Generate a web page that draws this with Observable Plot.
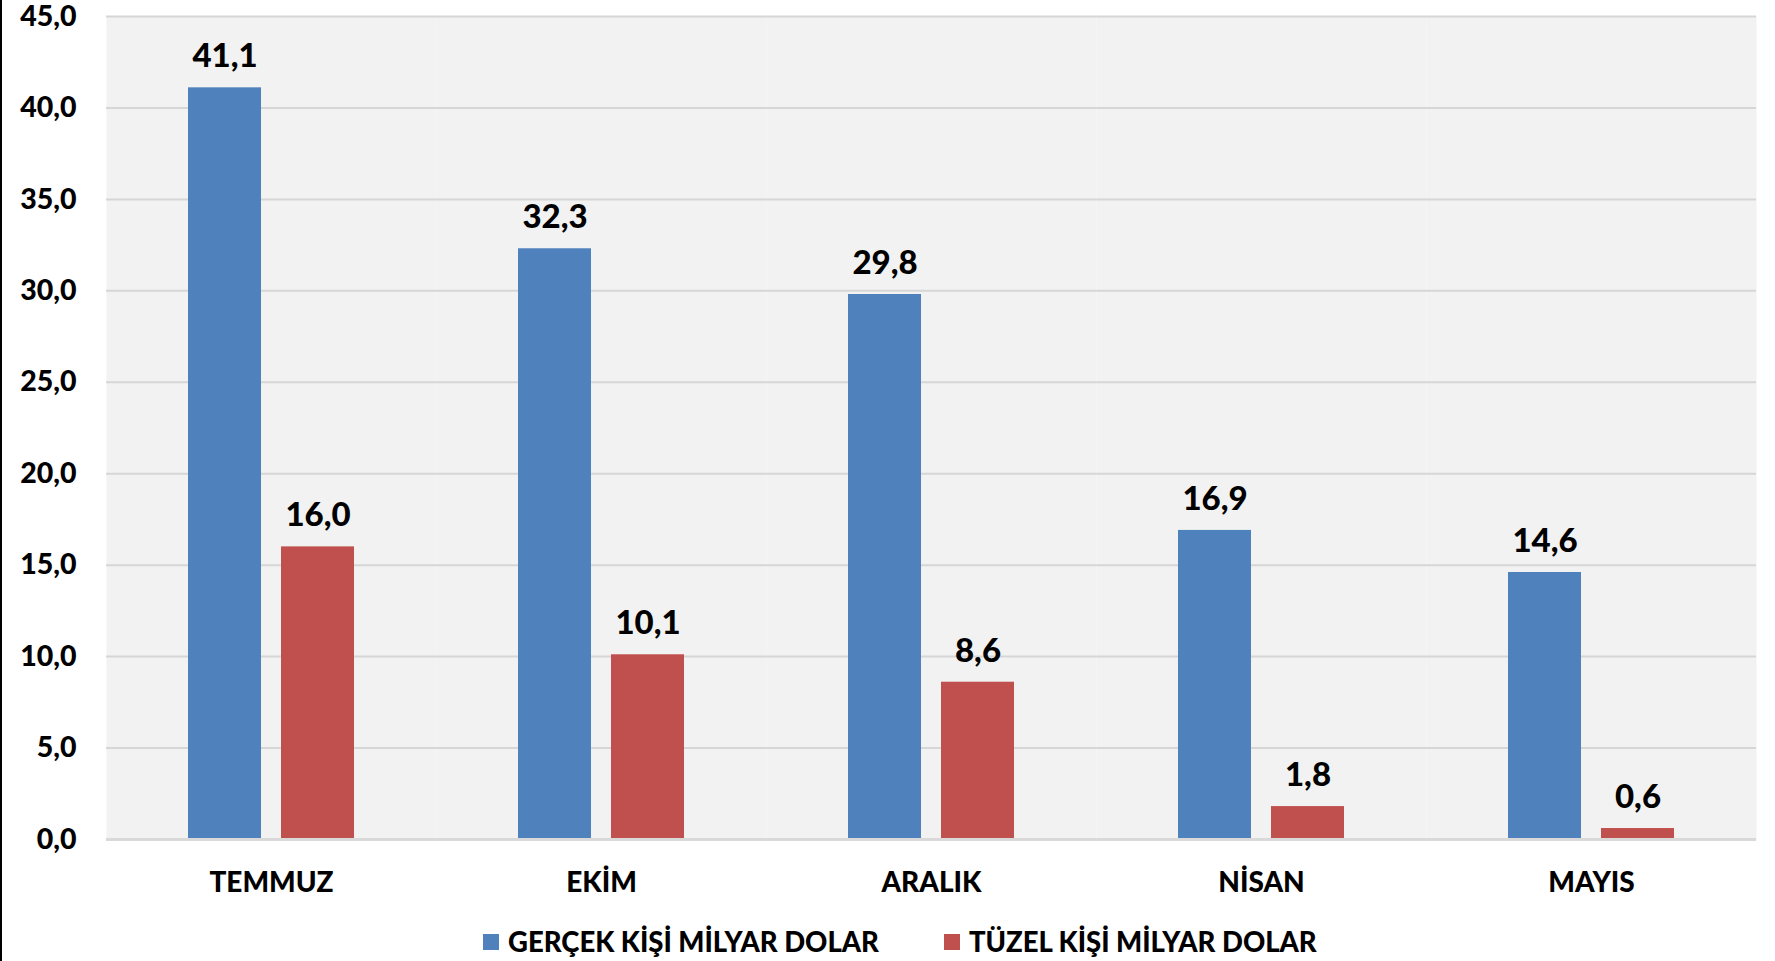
<!DOCTYPE html>
<html><head><meta charset="utf-8">
<script src="https://cdn.jsdelivr.net/npm/d3@7"></script>
<script src="https://cdn.jsdelivr.net/npm/@observablehq/plot@0.6"></script>
<style>
body{margin:0;background:#fff;font-family:Lato,sans-serif;}
#wrap{position:relative;width:1775px;height:961px;overflow:hidden;background:#fff;}
#edge{position:absolute;left:0;top:0;width:2px;height:961px;background:#000;}
#chart{position:absolute;left:0;top:0;}
.legend{position:absolute;top:925px;left:483px;display:flex;align-items:center;font-weight:900;font-size:27.5px;color:#000;white-space:nowrap;}
.item{display:flex;align-items:center;}
.sw{width:16px;height:16px;margin-right:9px;}
</style></head>
<body>
<div id="wrap"><div id="chart"></div><div id="edge"></div><div class="legend" id="legend"></div></div>
<script>
const months = ["TEMMUZ", "EKİM", "ARALIK", "NİSAN", "MAYIS"];
const seriesNames = ["GERÇEK KİŞİ MİLYAR DOLAR", "TÜZEL KİŞİ MİLYAR DOLAR"];
const gercek = [41.1, 32.3, 29.8, 16.9, 14.6];
const tuzel = [16.0, 10.1, 8.6, 1.8, 0.6];
const yTicks = [0, 5, 10, 15, 20, 25, 30, 35, 40, 45];
const colors = ["#4f81bd", "#c0504d"];

const data = months.flatMap((m, i) => [
  {month: m, series: seriesNames[0], value: gercek[i]},
  {month: m, series: seriesNames[1], value: tuzel[i]}
]);
const fmt = v => v.toFixed(1).replace(".", ",");

const chart = Plot.plot({
  width: 1775, height: 905,
  marginLeft: 105, marginRight: 18, marginTop: 16, marginBottom: 66,
  style: {fontFamily: "Lato, sans-serif", fontWeight: 900, color: "#000", background: "transparent", overflow: "visible"},
  fx: {domain: months, padding: 0, label: null},
  x: {domain: seriesNames, paddingInner: 0.2128, paddingOuter: 0.862, axis: null},
  y: {domain: [0, 45], label: null},
  color: {domain: seriesNames, range: colors},
  marks: [
    Plot.frame({fill: "#f2f2f2", stroke: "none"}),
    Plot.gridY(yTicks, {stroke: "#d6d6d6", strokeOpacity: 1, strokeWidth: 2}),
    Plot.barY(data, {fx: "month", x: "series", y: "value", fill: "series"}),
    Plot.ruleY([0], {stroke: "#d9d9d9", strokeWidth: 3}),
    Plot.text(data, {fx: "month", x: "series", y: "value", text: d => fmt(d.value), dy: -31, fontSize: 33, fontWeight: 900, fill: "#000"}),
    Plot.axisY(yTicks, {tickFormat: fmt, tickSize: 0, tickPadding: 30, fontSize: 28.5, fontWeight: 900, label: null}),
    Plot.axisFx({anchor: "bottom", tickSize: 0, tickPadding: 33, fontSize: 28, fontWeight: 900, label: null})
  ]
});
document.getElementById("chart").appendChild(chart);

const leg = document.getElementById("legend");
seriesNames.forEach((s, i) => {
  const it = document.createElement("div");
  it.className = "item";
  if (i > 0) it.style.marginLeft = "65px";
  const sw = document.createElement("div");
  sw.className = "sw"; sw.style.background = colors[i];
  const t = document.createElement("span"); t.textContent = s;
  it.appendChild(sw); it.appendChild(t);
  leg.appendChild(it);
});
</script>
</body></html>
